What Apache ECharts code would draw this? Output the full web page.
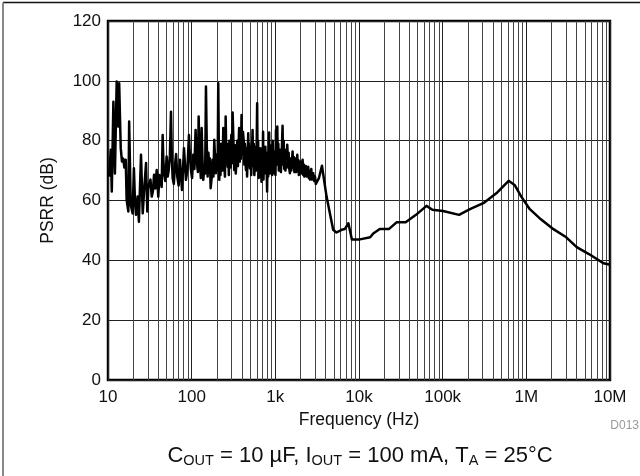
<!DOCTYPE html>
<html>
<head>
<meta charset="utf-8">
<script src="https://cdn.jsdelivr.net/npm/echarts@6/dist/echarts.min.js"></script>
<style>
  html, body { margin: 0; padding: 0; background: #fff; }
  #chart { width: 640px; height: 476px; }
</style>
</head>
<body>
<div id="chart"></div>
<script>
// Power-supply rejection ratio versus ripple frequency
const freqHz = [
  10.3, 10.8, 11.1, 11.6, 12.1, 12.7, 13.3, 13.6, 14.2, 14.7,
  15.2, 15.7, 16.3, 16.7, 17.5, 17.9, 18.7, 19.7, 20.4, 21.0,
  21.6, 22.6, 23.4, 24.8, 26.0, 27.2, 28.5, 29.5, 30.3, 31.1,
  32.2, 33.3, 34.4, 35.5, 36.8, 38.2, 39.0, 39.9, 41.2, 42.6,
  43.8, 45.0, 45.8, 46.7, 48.4, 50.2, 51.7, 53.2, 54.9, 56.6,
  58.0, 59.3, 61.2, 63.2, 65.2, 67.3, 69.9, 72.5, 74.5, 76.6,
  78.7, 80.9, 83.2, 85.5, 89.0, 92.8, 95.4, 98.0, 101.2, 104.4,
  107.8, 111.4, 114.0, 116.6, 118.9, 121.2, 123.4, 125.6, 128.6, 131.6,
  134.6, 137.6, 142.8, 145, 148.2, 151.7, 155.2, 158.6, 162.0, 165.3,
  168.6, 173.3, 178.2, 182.2, 186.3, 190.7, 195.1, 201.4, 204.5, 207.9,
  210.8, 213.7, 217.3, 221.0, 224.7, 228.4, 233.5, 238.8, 244.3, 250.0,
  254.8, 259.6, 264.6, 269.7, 274.0, 278.2, 282.5, 286.8, 292.3, 297.8,
  303.2, 308.7, 315.6, 322.5, 329.5, 336.5, 344.3, 350.6, 356.8, 363,
  369.3, 375.6, 382, 388.2, 394.5, 400.8, 410, 420.0, 426.3, 432.7,
  439, 445.4, 452.5, 459.5, 467, 474.3, 480, 486, 492, 497.3,
  506, 515, 525, 534.6, 543, 552, 561, 569.5, 578, 587,
  597, 606.3, 614, 623, 632, 640.6, 651, 661, 672, 683.4,
  691, 699, 706, 713.9, 722, 731, 740, 748.4, 760, 772,
  784, 797.5, 808, 820, 832, 843.2, 857, 871, 885, 900.2,
  915, 931, 947, 962.5, 975, 990, 1004, 1017, 1036, 1055,
  1070, 1085, 1100, 1114, 1140, 1166, 1193, 1220, 1240, 1260,
  1280, 1300, 1322, 1344, 1366, 1389, 1415, 1442, 1468, 1495,
  1523, 1551, 1580, 1608, 1635, 1662, 1689, 1716, 1745, 1773,
  1802, 1830, 1856, 1882, 1908, 1933, 1980, 2026, 2073, 2119,
  2154, 2190, 2225, 2260, 2313, 2367, 2420, 2474, 2516, 2560,
  2600, 2643, 2690, 2740, 2790, 2840, 2910, 2980, 3050, 3117,
  3320, 3607, 4095, 4910, 5380, 6190, 6790, 7470, 8220, 10260,
  13600, 14800, 17700, 22900, 28100, 36100, 48000, 64100, 75400, 101000,
  157000, 212000, 306000, 438000, 614000, 724000, 870000, 1100000, 1440000, 2040000,
  3000000, 4000000, 5600000, 8400000, 10000000
];
const psrrDb = [
  68, 77, 63, 93, 69, 99.8, 84.7, 99.2, 77.5, 73,
  74, 71, 73.6, 60.2, 56.3, 86.4, 58.5, 55.7, 70.8, 60,
  55.2, 61.3, 52.9, 75.3, 55.7, 64.6, 72.5, 56.3, 64, 65.8,
  67, 61.3, 63, 68.6, 64, 70.2, 66, 61.3, 68.5, 66.9,
  64.5, 81.9, 74, 69.1, 66.5, 74.7, 68, 70.2, 75, 89.7,
  74, 67.4, 65.5, 71.9, 75.5, 68, 65, 73.6, 68.5, 63.5,
  70, 77.5, 72, 66.9, 70.5, 81.9, 74.5, 70.2, 67.5, 75.3,
  70.5, 83.6, 76, 71.3, 69.5, 88.1, 78, 73.6, 67.5, 84.2,
  74, 66.9, 72, 69, 98.1, 78, 68, 76, 70.5, 74,
  64.1, 67.5, 73.6, 68, 80.3, 73.5, 69.1, 75.5, 70, 99.2,
  80, 66.9, 74.5, 68.5, 79, 75.8, 70, 84.2, 73.5, 68,
  88.1, 74.5, 78, 71.3, 79, 68.5, 80, 76.9, 71, 82,
  72.5, 89.4, 80, 70.2, 78.5, 69, 73.6, 80, 71.5, 77,
  84.2, 73, 80.5, 74, 88.6, 75.5, 83, 79.7, 72, 79,
  74, 70.2, 77.5, 68, 75, 82.5, 72.5, 79, 73.5, 70.8,
  78, 68.5, 76, 83.6, 71.5, 79, 68.5, 72.5, 78, 70,
  76, 92.5, 70.5, 80, 67.5, 73.6, 68, 77.5, 73, 66.3,
  76, 69.5, 74, 83, 67, 76, 75.5, 69.1, 78, 71,
  74, 63, 76, 68, 71, 82.7, 69, 78.5, 71, 73.6,
  68.5, 80, 70, 76.4, 69, 75, 68.5, 83.6, 72, 84.7,
  74, 79, 70, 71.3, 77, 69.5, 76, 85, 72, 80,
  70.5, 75.8, 70, 77, 71, 78.6, 73, 76, 70.5, 69.1,
  74, 70, 73, 76.4, 71, 74.5, 69.5, 70.8, 74, 69.5,
  72, 75.3, 70.5, 73.5, 68.5, 70.2, 73, 69, 71.5, 73.6,
  68.5, 72, 68, 69.1, 71.5, 68, 70, 71.3, 67.5, 70,
  67, 68, 70.5, 67, 68, 69.1, 66.5, 68, 65.5, 66,
  67.5, 71.6, 61.3, 50.2, 49.3, 50.2, 50.5, 52.4, 47, 47,
  47.7, 49, 50.5, 50.5, 52.7, 52.7, 55.2, 58.2, 56.9, 56.5,
  55.2, 57.1, 59.1, 62.4, 66.6, 65.2, 61.3, 57.1, 54.1, 50.7,
  47.7, 44.4, 42.1, 39, 38.5
];
const freqTickLabels = { 10: '10', 100: '100', 1000: '1k', 10000: '10k', 100000: '100k', 1000000: '1M', 10000000: '10M' };

// Minor log grid lines (2..9 within each decade)
const minorLines = [];
for (let d = 10; d < 1e7; d *= 10) {
  for (let k = 2; k <= 9; k++) minorLines.push({ xAxis: d * k });
}

const FONT = '"Liberation Sans", Arial, Helvetica, sans-serif';
const chart = echarts.init(document.getElementById('chart'), null, { renderer: 'canvas' });

chart.setOption({
  animation: false,
  backgroundColor: '#fff',
  grid: {
    left: 108, right: 30, top: 21, bottom: 96,
    show: true, borderColor: '#000', borderWidth: 2.5, backgroundColor: 'transparent'
  },
  xAxis: {
    type: 'log', logBase: 10, min: 10, max: 10000000,
    name: 'Frequency (Hz)', nameLocation: 'middle', nameGap: 30,
    nameTextStyle: { fontFamily: FONT, fontSize: 17.5, color: '#111' },
    axisLine: { show: false }, axisTick: { show: false },
    axisLabel: {
      fontFamily: FONT, fontSize: 17, color: '#111', margin: 9,
      formatter: v => freqTickLabels[Math.round(v)] || ''
    },
    splitLine: { show: true, lineStyle: { color: '#222', width: 1 } }
  },
  yAxis: {
    type: 'value', min: 0, max: 120, interval: 20,
    name: 'PSRR (dB)', nameLocation: 'middle', nameGap: 51,
    nameTextStyle: { fontFamily: FONT, fontSize: 17.5, color: '#111' },
    axisLine: { show: false }, axisTick: { show: false },
    axisLabel: { fontFamily: FONT, fontSize: 17, color: '#111', margin: 7 },
    splitLine: { show: true, lineStyle: { color: '#222', width: 1 } }
  },
  series: [{
    type: 'line',
    data: freqHz.map((f, i) => [f, psrrDb[i]]),
    showSymbol: false,
    lineStyle: { color: '#000', width: 2.5, join: 'round' },
    z: 5,
    markLine: {
      silent: true, symbol: 'none', animation: false,
      label: { show: false },
      lineStyle: { color: '#444', width: 1, type: 'solid' },
      data: minorLines,
      z: 1
    }
  }],
  graphic: [
    { type: 'line', shape: { x1: 3, y1: 2.5, x2: 640, y2: 2.5 }, style: { stroke: '#111', lineWidth: 1.5 } },
    { type: 'line', shape: { x1: 3, y1: 2.5, x2: 3, y2: 476 }, style: { stroke: '#888', lineWidth: 2 } },
    {
      type: 'text', x: 639, y: 426,
      style: { text: 'D013', font: '12px ' + FONT, fill: '#999', align: 'right', verticalAlign: 'middle' }
    },
    {
      type: 'text', x: 360, y: 456,
      style: {
        text: 'C{s|OUT} = 10 µF, I{s|OUT} = 100 mA, T{s|A} = 25°C',
        font: '22px ' + FONT, fill: '#111', align: 'center', verticalAlign: 'middle',
        rich: { s: { fontSize: 14.5, fontFamily: FONT, fill: '#111', padding: [10, 0, 0, 0] } }
      }
    }
  ]
});
</script>
</body>
</html>
